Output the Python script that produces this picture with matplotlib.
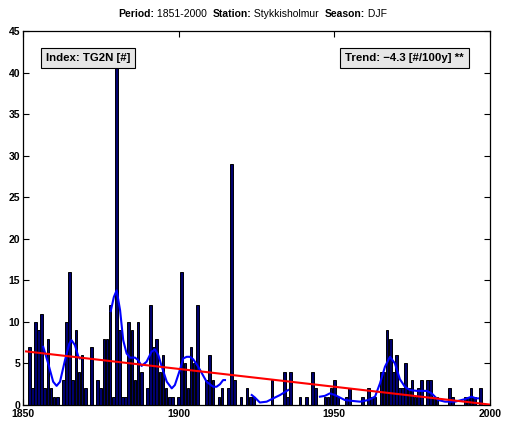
import numpy as np
import matplotlib
matplotlib.use("Agg")
import matplotlib.pyplot as plt

plt.rcParams["font.family"] = ["Liberation Sans", "DejaVu Sans"]

# --- data (counts per DJF season) ---
years = np.arange(1851, 2001)
counts = [
    0,
    7, 2, 10, 9, 11, 2, 8, 2, 1, 1,          # 1852-1861
    0, 3, 10, 16, 3, 9, 4, 6, 2, 0,          # 1862-1871
    7, 0, 3, 2, 8, 8, 12, 1, 43, 9,          # 1872-1881
    1, 1, 10, 9, 3, 10, 4, 0, 2, 12,         # 1882-1891
    7, 8, 4, 6, 2, 1, 1, 0, 1, 16,           # 1892-1901
    5, 2, 7, 5, 12, 0, 0, 3, 6, 3,           # 1902-1911
    0, 1, 2, 0, 2, 29, 3, 0, 1, 0,           # 1912-1921
    2, 1, 1, 0, 0, 0, 0, 0, 3, 0,            # 1922-1931
    0, 0, 4, 1, 4, 0, 0, 1, 0, 1,            # 1932-1941
    0, 4, 2, 0, 0, 1, 1, 2, 3, 1,            # 1942-1951
    0, 0, 1, 2, 0, 0, 0, 1, 0, 2,            # 1952-1961
    1, 1, 0, 4, 4, 9, 8, 4, 6, 2,            # 1962-1971
    2, 5, 2, 3, 1, 2, 3, 0, 3, 3,            # 1972-1981
    1, 1, 0, 0, 0, 2, 1, 0, 0, 0,            # 1982-1991
    1, 1, 2, 1, 0, 2, 0, 0, 0,               # 1992-2000
]

smooth_years = [1856.5, 1858.1, 1859.7, 1860.8, 1861.9, 1863.5, 1864.9, 1865.6,
                1866.7, 1867.8, 1868.3, np.nan,
                1878.2, 1879.2, 1880.1, 1881.2, 1882.2, 1883.3, 1884.4, 1886.0,
                1887.0, 1888.1, 1889.7, 1891.3, 1892.4, 1893.5, 1894.6, 1896.2,
                1897.8, 1898.8, 1900.4, 1901.5, 1902.6, 1903.6, 1904.7, 1906.3,
                1909.0, 1911.1, 1912.2, 1913.3, 1914.3, 1914.9, np.nan,
                1923.5, 1924.5, 1926.1, 1928.3, 1930.4, 1932.6, 1935.2, np.nan,
                1945.4, 1947.0, 1948.6, 1950.2, 1951.8, 1953.4, 1955.6, 1958.3,
                1961.0, 1963.1, 1964.7, 1966.3, 1967.9, 1969.5, 1971.1, 1972.7,
                1974.3, 1976.5, 1979.7, 1981.3, 1983.4, 1985.6, 1988.8, 1992.0,
                1994.1, 1995.5, 1996.2]
smooth_vals = [7.0, 5.0, 2.8, 2.3, 2.8, 5.4, 7.4, 7.8,
               7.2, 5.8, 5.6, np.nan,
               11.3, 13.0, 13.8, 11.4, 7.8, 6.2, 5.7, 5.7,
               5.4, 4.7, 5.2, 6.4, 6.7, 6.0, 4.6, 2.8,
               2.0, 2.4, 4.2, 5.6, 5.8, 5.8, 5.5, 4.6,
               2.8, 2.2, 2.2, 2.5, 3.0, 3.0, np.nan,
               1.2, 0.9, 0.3, 0.4, 0.8, 1.2, 1.8, np.nan,
               1.0, 1.1, 1.4, 1.2, 0.9, 0.6, 0.5, 0.4,
               0.6, 1.0, 2.6, 4.6, 5.8, 5.0, 3.1, 2.2,
               1.8, 1.7, 1.7, 1.4, 0.6, 0.4, 0.4, 0.7,
               1.0, 0.8, 0.8]

trend_years = [1851, 2000]
trend_vals = [6.45, 0.05]

# title pieces: (text, bold?)
title_parts = [("Period:", True), (" 1851-2000  ", False),
               ("Station:", True), (" Stykkisholmur  ", False),
               ("Season:", True), (" DJF", False)]
index_txt = "Index: TG2N [#]"
trend_txt = "Trend: \u22124.3 [#/100y] **"

# --- plot ---
fig = plt.figure(figsize=(5.05, 4.26), dpi=100)
ax = fig.add_axes([0.0455, 0.0493, 0.9245, 0.8777])

ax.bar(years, counts, width=0.85, color="#00006e", edgecolor="black",
       linewidth=0.7, zorder=2)
ax.plot(smooth_years, smooth_vals, color="#0000ff", lw=1.5, zorder=3)
ax.plot(trend_years, trend_vals, color="#ff0000", lw=1.5, zorder=4)

ax.set_xlim(1850, 2000)
ax.set_ylim(0, 45)
ax.set_xticks([1850, 1900, 1950, 2000])
ax.set_yticks(np.arange(0, 46, 5))
ax.tick_params(direction="in", top=True, right=True, length=4, width=0.8,
               labelsize=7.5, pad=2)
ax.tick_params(axis="x", pad=3)
for lab in ax.get_xticklabels() + ax.get_yticklabels():
    lab.set_fontweight("bold")
for sp in ax.spines.values():
    sp.set_linewidth(0.9)

box = dict(boxstyle="square,pad=0.45", facecolor="#e6e6e6", edgecolor="black",
           linewidth=0.8)
ax.text(0.049, 0.928, index_txt, transform=ax.transAxes, fontsize=8.2,
        fontweight="bold", ha="left", va="center", bbox=box, zorder=6)
ax.text(0.944, 0.928, trend_txt, transform=ax.transAxes, fontsize=8.2,
        fontweight="bold", ha="right", va="center", bbox=box, zorder=6)

# title: measure the pieces, then lay them out centred
renderer = fig.canvas.get_renderer()
pieces = []
for txt, bold in title_parts:
    t = fig.text(0, 0.967, txt, fontsize=7.5, va="center", ha="left",
                 fontweight="bold" if bold else "normal")
    pieces.append((t, t.get_window_extent(renderer).width))
total = sum(w for _, w in pieces)
x0 = (fig.bbox.width - total) / 2
for t, w in pieces:
    t.set_x(x0 / fig.bbox.width)
    x0 += w

fig.savefig("out.png", dpi=100)
